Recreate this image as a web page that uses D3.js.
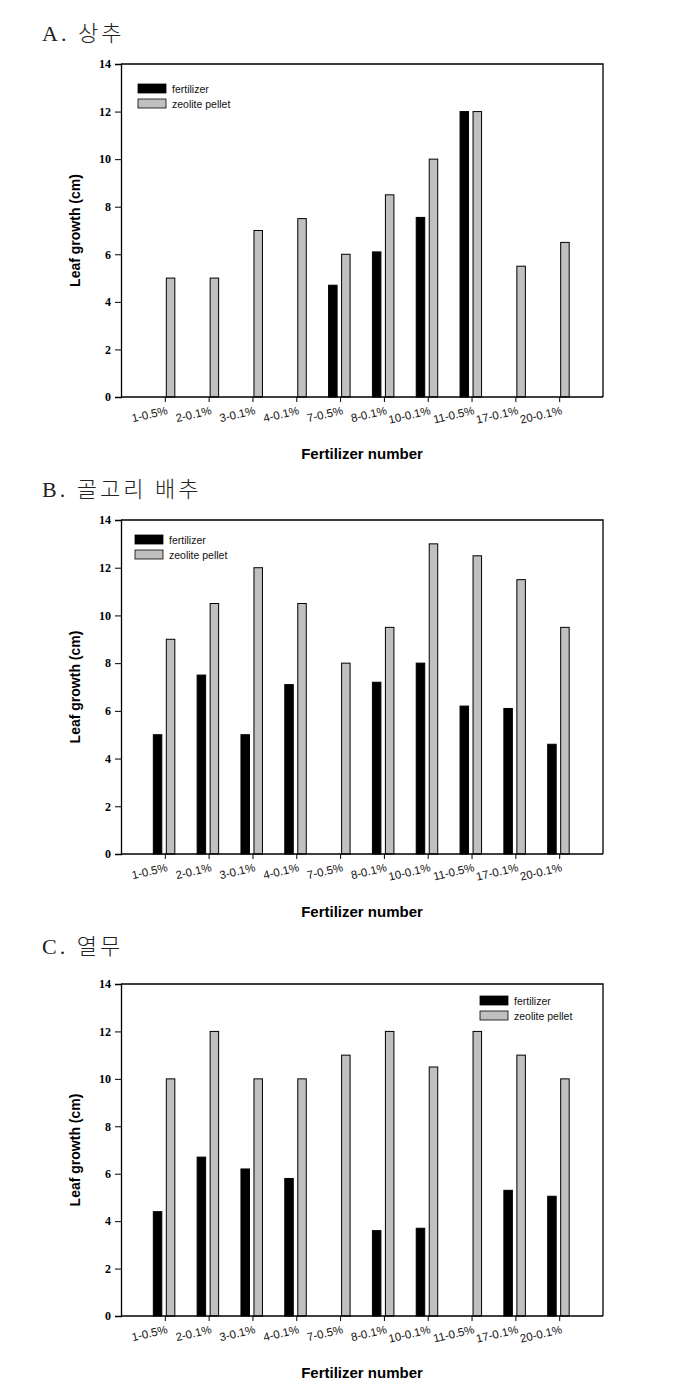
<!DOCTYPE html>
<html><head><meta charset="utf-8">
<script src="https://cdn.jsdelivr.net/npm/d3@7"></script>
<style>body{margin:0;background:#fff}svg{display:block}</style>
</head><body>
<svg id="c" width="688" height="1395"></svg>
<script>
const categories = ["1-0.5%","2-0.1%","3-0.1%","4-0.1%","7-0.5%","8-0.1%","10-0.1%","11-0.5%","17-0.1%","20-0.1%"];
const yTicks = [0,2,4,6,8,10,12,14];
const seriesNames = ["fertilizer","zeolite pellet"];
const titles = ["A. 상추","B. 골고리 배추","C. 열무"];
const fertA = [0,0,0,0,4.7,6.1,7.55,12,0,0];
const zeoA  = [5,5,7,7.5,6,8.5,10,12,5.5,6.5];
const fertB = [5,7.5,5,7.1,0,7.2,8,6.2,6.1,4.6];
const zeoB  = [9,10.5,12,10.5,8,9.5,13,12.5,11.5,9.5];
const fertC = [4.4,6.7,6.2,5.8,0,3.6,3.7,0,5.3,5.05];
const zeoC  = [10,12,10,10,11,12,10.5,12,11,10];

const panels = [
  {title:titles[0], fert:fertA, zeo:zeoA, top:64, bottom:397, titleY:41, xlabY:459, legend:{x:138,y:84}},
  {title:titles[1], fert:fertB, zeo:zeoB, top:520, bottom:854, titleY:497, xlabY:917, legend:{x:135,y:535}},
  {title:titles[2], fert:fertC, zeo:zeoC, top:984, bottom:1316, titleY:954, xlabY:1378, legend:{x:480,y:996}}
];
const colors = ["#000000","#c0c0c0"];
const left = 121, right = 603;
const svg = d3.select("#c");

panels.forEach(p => {
  const g = svg.append("g");
  const x = d3.scalePoint().domain(categories).range([left, right]).padding(1);
  const y = d3.scaleLinear().domain([0,14]).range([p.bottom, p.top]);

  g.append("text").attr("x",42).attr("y",p.titleY)
    .attr("font-family","'Liberation Serif','Noto Sans CJK KR',serif")
    .attr("font-size",22).attr("font-weight",300).attr("letter-spacing",3)
    .attr("fill","#222").text(p.title);

  // bars
  const bw = 8.5;
  g.selectAll(".bf").data(categories.map((c,i)=>({c,v:p.fert[i]})).filter(d=>d.v>0)).join("rect")
    .attr("x",d=>x(d.c)-11.5).attr("y",d=>y(d.v)).attr("width",bw).attr("height",d=>y(0)-y(d.v))
    .attr("fill",colors[0]).attr("stroke","#000").attr("stroke-width",1);
  g.selectAll(".bz").data(categories.map((c,i)=>({c,v:p.zeo[i]})).filter(d=>d.v>0)).join("rect")
    .attr("x",d=>x(d.c)+1.5).attr("y",d=>y(d.v)).attr("width",bw).attr("height",d=>y(0)-y(d.v))
    .attr("fill",colors[1]).attr("stroke","#000").attr("stroke-width",1);

  // frame top & right
  g.append("path").attr("d",`M${left},${p.top}H${right}V${p.bottom}`)
    .attr("fill","none").attr("stroke","#000").attr("stroke-width",1.3);

  // y axis
  const ya = g.append("g").attr("transform",`translate(${left},0)`)
    .call(d3.axisLeft(y).tickValues(yTicks).tickSize(6).tickPadding(4).tickFormat(d3.format("d")));
  ya.select(".domain").attr("stroke-width",1.3);
  ya.selectAll("text").attr("font-family","'Liberation Serif',serif").attr("font-weight","bold")
    .attr("font-size",12).attr("fill","#000");

  // x axis
  const xa = g.append("g").attr("transform",`translate(0,${p.bottom})`)
    .call(d3.axisBottom(x).tickSize(5).tickSizeOuter(0));
  xa.select(".domain").attr("d",`M${left},0H${right}`).attr("stroke-width",1.3);
  xa.selectAll("text").attr("font-family","'Liberation Sans',Arial,sans-serif")
    .attr("font-size",11.5).attr("fill","#111")
    .attr("text-anchor","end").attr("dy",0).attr("y",0)
    .attr("transform","translate(3,17) rotate(-13)");

  // axis titles
  g.append("text").attr("transform",`translate(80,${(p.top+p.bottom)/2}) rotate(-90)`)
    .attr("text-anchor","middle").attr("font-family","'Liberation Sans',Arial,sans-serif")
    .attr("font-weight","bold").attr("font-size",14).text("Leaf growth (cm)");
  g.append("text").attr("x",(left+right)/2).attr("y",p.xlabY).attr("text-anchor","middle")
    .attr("font-family","'Liberation Sans',Arial,sans-serif")
    .attr("font-weight","bold").attr("font-size",15).text("Fertilizer number");

  // legend
  const lg = g.append("g").attr("transform",`translate(${p.legend.x},${p.legend.y})`);
  seriesNames.forEach((s,i)=>{
    lg.append("rect").attr("x",0).attr("y",i*15).attr("width",28).attr("height",9)
      .attr("fill",colors[i]).attr("stroke","#000").attr("stroke-width",0.8);
    lg.append("text").attr("x",34).attr("y",i*15+8.5)
      .attr("font-family","'Liberation Sans',Arial,sans-serif").attr("font-size",10.5)
      .attr("fill","#111").text(s);
  });
});
</script>
</body></html>
